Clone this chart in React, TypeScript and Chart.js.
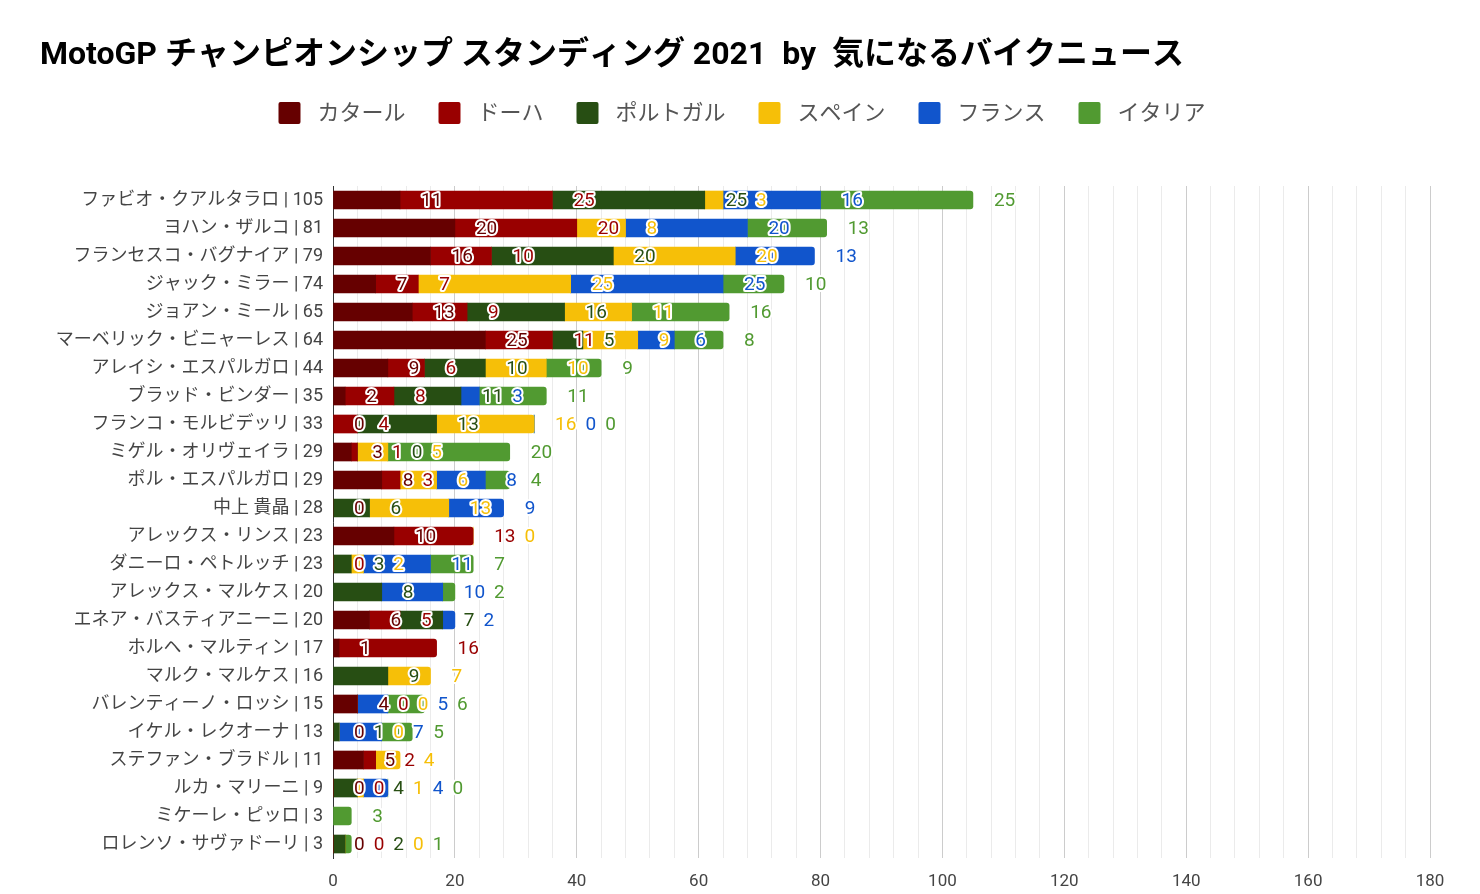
import React, { useEffect, useRef } from "react";
import { Chart, registerables } from "chart.js";

Chart.register(...registerables);

const FONT = "Roboto, 'Noto Sans CJK JP', sans-serif";

const chartTitle = "MotoGP チャンピオンシップ スタンディング 2021  by  気になるバイクニュース";

const riderLabels = [
  "ファビオ・クアルタラロ | 105",
  "ヨハン・ザルコ | 81",
  "フランセスコ・バグナイア | 79",
  "ジャック・ミラー | 74",
  "ジョアン・ミール | 65",
  "マーベリック・ビニャーレス | 64",
  "アレイシ・エスパルガロ | 44",
  "ブラッド・ビンダー | 35",
  "フランコ・モルビデッリ | 33",
  "ミゲル・オリヴェイラ | 29",
  "ポル・エスパルガロ | 29",
  "中上 貴晶 | 28",
  "アレックス・リンス | 23",
  "ダニーロ・ペトルッチ | 23",
  "アレックス・マルケス | 20",
  "エネア・バスティアニーニ | 20",
  "ホルヘ・マルティン | 17",
  "マルク・マルケス | 16",
  "バレンティーノ・ロッシ | 15",
  "イケル・レクオーナ | 13",
  "ステファン・ブラドル | 11",
  "ルカ・マリーニ | 9",
  "ミケーレ・ピッロ | 3",
  "ロレンソ・サヴァドーリ | 3",
];

const seriesNames = ["カタール", "ドーハ", "ポルトガル", "スペイン", "フランス", "イタリア"];
const seriesColors = ["#660000", "#990000", "#274e13", "#f6bf08", "#1155cc", "#519a31"];

const qatar = [11, 20, 16, 7, 13, 25, 9, 2, 0, 3, 8, 0, 10, null, null, 6, 1, null, 4, 0, 5, 0, null, 0];
const doha = [25, 20, 10, 7, 9, 11, 6, 8, 4, 1, 3, null, 13, 0, null, 5, 16, null, 0, null, 2, 0, null, 0];
const portugal = [25, null, 20, null, 16, 5, 10, 11, 13, 0, null, 6, null, 3, 8, 7, null, 9, null, 1, null, 4, null, 2];
const spain = [3, 8, 20, 25, 11, 9, 10, null, 16, 5, 6, 13, 0, 2, null, null, null, 7, 0, 0, 4, 1, null, 0];
const france = [16, 20, 13, 25, null, 6, null, 3, 0, null, 8, 9, null, 11, 10, 2, null, null, 5, 7, null, 4, null, null];
const italy = [25, 13, null, 10, 16, 8, 9, 11, 0, 20, 4, null, null, 7, 2, null, null, null, 6, 5, null, 0, 3, 1];

const xMin = 0;
const xMax = 180;
const xMinorStep = 4;
const xMajorStep = 20;

export default function App() {
  const ref = useRef<HTMLCanvasElement>(null);

  useEffect(() => {
    if (!ref.current) return;
    const series = [qatar, doha, portugal, spain, france, italy];

    const headerPlugin = {
      id: "header",
      afterDraw(chart: any) {
        const ctx = chart.ctx;
        ctx.save();
        ctx.textBaseline = "middle";
        ctx.textAlign = "left";
        ctx.fillStyle = "#000";
        ctx.font = `bold 32px ${FONT}`;
        ctx.fillText(chartTitle, 32, 48);

        ctx.font = `22px ${FONT}`;
        const box = 22;
        const gapText = 17;
        const gapItem = 33;
        const widths = seriesNames.map((n) => ctx.measureText(n).width);
        const total =
          widths.reduce((a, w) => a + box + gapText + w, 0) + gapItem * (seriesNames.length - 1);
        let x = (chart.width - total) / 2 + 2;
        const y = 105;
        seriesNames.forEach((name, j) => {
          ctx.fillStyle = seriesColors[j];
          ctx.beginPath();
          if (ctx.roundRect) ctx.roundRect(x, y - box / 2, box, box, 2);
          else ctx.rect(x, y - box / 2, box, box);
          ctx.fill();
          ctx.fillStyle = "#555";
          ctx.fillText(name, x + box + gapText, y + 1);
          x += box + gapText + widths[j] + gapItem;
        });
        ctx.restore();
      },
    };

    const labelPlugin = {
      id: "segLabels",
      afterDatasetsDraw(chart: any) {
        const ctx = chart.ctx;
        const xs = chart.scales.x;
        const ys = chart.scales.y;
        ctx.save();
        ctx.font = `19px ${FONT}`;
        ctx.textBaseline = "middle";
        ctx.textAlign = "left";
        ctx.lineJoin = "round";
        ctx.lineWidth = 4;
        ctx.strokeStyle = "#fff";
        for (let i = 0; i < riderLabels.length; i++) {
          let cum = 0;
          let prevRight = -Infinity;
          const y = ys.getPixelForValue(i) + 1;
          series.forEach((arr, j) => {
            const v = arr[i];
            if (v === null || v === undefined) return;
            cum += v;
            const txt = String(v);
            const w = ctx.measureText(txt).width;
            let x = xs.getPixelForValue(cum) + 21;
            if (x < prevRight + 9) x = prevRight + 9;
            ctx.strokeText(txt, x, y);
            ctx.fillStyle = seriesColors[j];
            ctx.fillText(txt, x, y);
            prevRight = x + w;
          });
        }
        ctx.restore();
      },
    };

    const chart = new Chart(ref.current, {
      type: "bar",
      data: {
        labels: riderLabels,
        datasets: series.map((d, j) => ({
          label: seriesNames[j],
          data: d,
          backgroundColor: seriesColors[j],
          borderRadius: 3,
          borderSkipped: "start",
          barThickness: 18,
        })),
      },
      options: {
        indexAxis: "y",
        animation: false,
        responsive: false,
        devicePixelRatio: 1,
        layout: { padding: { top: 178, right: 42, bottom: 0, left: 0 } },
        plugins: {
          legend: { display: false },
          title: { display: false },
          tooltip: { enabled: false },
        },
        scales: {
          x: {
            stacked: true,
            min: xMin,
            max: xMax,
            ticks: {
              stepSize: xMinorStep,
              autoSkip: false,
              maxRotation: 0,
              callback: (v: any) => (Number(v) % xMajorStep === 0 ? String(v) : ""),
              color: "#444",
              font: { family: FONT, size: 17 },
              padding: 14,
            },
            grid: {
              color: (c: any) =>
                c.tick && Number(c.tick.value) % xMajorStep === 0 ? "#cccccc" : "#ebebeb",
              drawTicks: false,
              lineWidth: 1,
            },
            border: { display: false },
            afterFit: (s: any) => {
              s.height = 28;
            },
          },
          y: {
            stacked: true,
            ticks: {
              color: "#444",
              font: { family: FONT, size: 18 },
              padding: 10,
              autoSkip: false,
            },
            grid: { display: false, drawTicks: false },
            border: { display: true, color: "#333", width: 1 },
            afterFit: (s: any) => {
              s.width = 325;
            },
          },
        },
      },
      plugins: [headerPlugin, labelPlugin],
    } as any);

    return () => chart.destroy();
  }, []);

  return (
    <div style={{ width: 1464, height: 878 }}>
      <canvas ref={ref} width={1464} height={878} style={{ display: "block" }} />
    </div>
  );
}
